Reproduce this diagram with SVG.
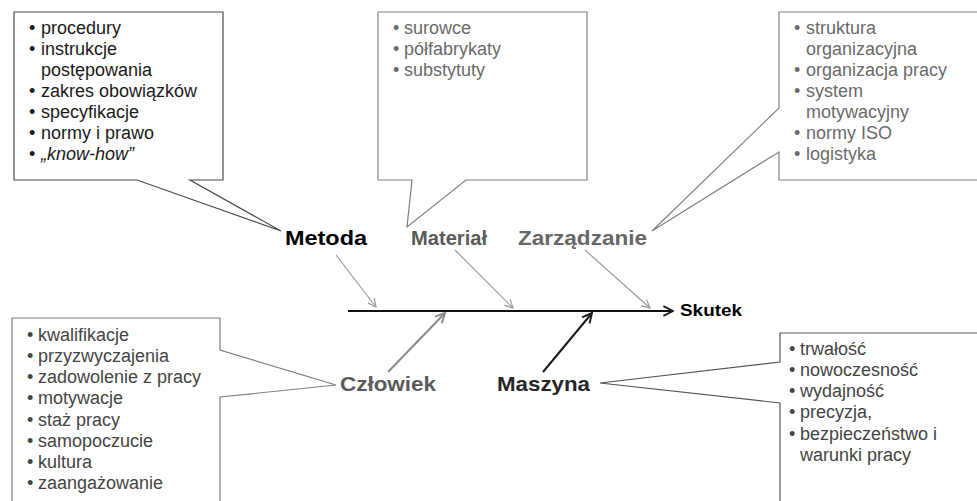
<svg xmlns="http://www.w3.org/2000/svg" width="977" height="501" viewBox="0 0 977 501">
<style>
text{font-family:"Liberation Sans",Arial,sans-serif}
.li{font-size:18px}
.lbl{font-size:21px;font-weight:bold}
.call{fill:#fff;stroke-width:1.2}
.bone{fill:none;stroke:#9a9a9a;stroke-width:1.2}
</style>
<defs>
<marker id="hg" viewBox="0 0 10 10" refX="9" refY="5" markerWidth="10" markerHeight="10" markerUnits="userSpaceOnUse" orient="auto"><path d="M1,1 L9,5 L1,9" fill="none" stroke="#9a9a9a" stroke-width="1.2"/></marker>
<marker id="hm" viewBox="0 0 10 10" refX="9" refY="5" markerWidth="12" markerHeight="12" markerUnits="userSpaceOnUse" orient="auto"><path d="M1,1 L9,5 L1,9" fill="none" stroke="#8a8a8a" stroke-width="1.6"/></marker>
<marker id="hd" viewBox="0 0 10 10" refX="9" refY="5" markerWidth="12" markerHeight="12" markerUnits="userSpaceOnUse" orient="auto"><path d="M1,1 L9,5 L1,9" fill="none" stroke="#1a1a1a" stroke-width="1.6"/></marker>
</defs>
<rect width="977" height="501" fill="#fff"/>

<g id="connectors">
<line x1="348" y1="311" x2="673" y2="311" stroke="#111" stroke-width="2" marker-end="url(#hd)"/>
<line class="bone" x1="336" y1="255" x2="376" y2="307" marker-end="url(#hg)"/>
<line class="bone" x1="455" y1="250" x2="513" y2="308" marker-end="url(#hg)"/>
<line class="bone" x1="585" y1="250" x2="650" y2="308" marker-end="url(#hg)"/>
<line x1="388" y1="372" x2="445" y2="313" stroke="#8a8a8a" stroke-width="2" marker-end="url(#hm)"/>
<line x1="543" y1="372" x2="592" y2="313" stroke="#1a1a1a" stroke-width="2" marker-end="url(#hd)"/>
</g>

<g id="metoda">
<path class="call" stroke="#4a4a4a" d="M14,12 H223 V180 H190 L281,231 L137,180 H14 Z"/>
<g class="li" fill="#1a1a1a">
<text x="29" y="34">•</text><text x="41" y="34">procedury</text>
<text x="29" y="55">•</text><text x="41" y="55">instrukcje</text>
<text x="41" y="76">postępowania</text>
<text x="29" y="97">•</text><text x="41" y="97">zakres obowiązków</text>
<text x="29" y="118">•</text><text x="41" y="118">specyfikacje</text>
<text x="29" y="139">•</text><text x="41" y="139">normy i prawo</text>
<text x="29" y="160">•</text><text x="41" y="160" font-style="italic">„know-how”</text>
</g>
<text class="lbl" x="285" y="245" fill="#000" textLength="82" lengthAdjust="spacingAndGlyphs">Metoda</text>
</g>

<g id="material">
<path class="call" stroke="#808080" d="M378,12 H587 V180 H466 L407,227 L412,180 H378 Z"/>
<g class="li" fill="#6a6a6a">
<text x="393" y="34">•</text><text x="404" y="34">surowce</text>
<text x="393" y="55">•</text><text x="404" y="55">półfabrykaty</text>
<text x="393" y="76">•</text><text x="404" y="76">substytuty</text>
</g>
<text class="lbl" x="411" y="245" fill="#5a5a5a" textLength="76" lengthAdjust="spacingAndGlyphs">Materiał</text>
</g>

<g id="zarzadzanie">
<path class="call" stroke="#808080" d="M779,12 H985 V180 H779 V152 L652,231 L779,108 Z"/>
<g class="li" fill="#6a6a6a">
<text x="794" y="34">•</text><text x="806" y="34">struktura</text>
<text x="806" y="55">organizacyjna</text>
<text x="794" y="76">•</text><text x="806" y="76">organizacja pracy</text>
<text x="794" y="97">•</text><text x="806" y="97">system</text>
<text x="806" y="118">motywacyjny</text>
<text x="794" y="139">•</text><text x="806" y="139">normy ISO</text>
<text x="794" y="160">•</text><text x="806" y="160">logistyka</text>
</g>
<text class="lbl" x="518" y="245" fill="#666" textLength="129" lengthAdjust="spacingAndGlyphs">Zarządzanie</text>
</g>

<g id="czlowiek">
<path class="call" stroke="#808080" d="M12,318 H220 V350 L336,385 L220,397 V510 H12 Z"/>
<g class="li" fill="#444">
<text x="27" y="341">•</text><text x="38" y="341">kwalifikacje</text>
<text x="27" y="362">•</text><text x="38" y="362">przyzwyczajenia</text>
<text x="27" y="383">•</text><text x="38" y="383">zadowolenie z pracy</text>
<text x="27" y="404">•</text><text x="38" y="404">motywacje</text>
<text x="27" y="426">•</text><text x="38" y="426">staż pracy</text>
<text x="27" y="447">•</text><text x="38" y="447">samopoczucie</text>
<text x="27" y="468">•</text><text x="38" y="468">kultura</text>
<text x="27" y="489">•</text><text x="38" y="489">zaangażowanie</text>
</g>
<text class="lbl" x="340" y="391" fill="#5a5a5a" textLength="96" lengthAdjust="spacingAndGlyphs">Człowiek</text>
</g>

<g id="maszyna">
<path class="call" stroke="#555" d="M780,333 H985 V510 H780 V403 L600,383 L780,362 Z"/>
<g class="li" fill="#444">
<text x="789" y="355">•</text><text x="800" y="355">trwałość</text>
<text x="789" y="376">•</text><text x="800" y="376">nowoczesność</text>
<text x="789" y="397">•</text><text x="800" y="397">wydajność</text>
<text x="789" y="418">•</text><text x="800" y="418">precyzja,</text>
<text x="789" y="440">•</text><text x="800" y="440">bezpieczeństwo i</text>
<text x="800" y="461">warunki pracy</text>
</g>
<text class="lbl" x="497" y="391" fill="#262626" textLength="93" lengthAdjust="spacingAndGlyphs">Maszyna</text>
</g>

<g id="skutek">
<text x="680" y="316" font-size="16" font-weight="bold" fill="#000" textLength="62" lengthAdjust="spacingAndGlyphs">Skutek</text>
</g>
</svg>
